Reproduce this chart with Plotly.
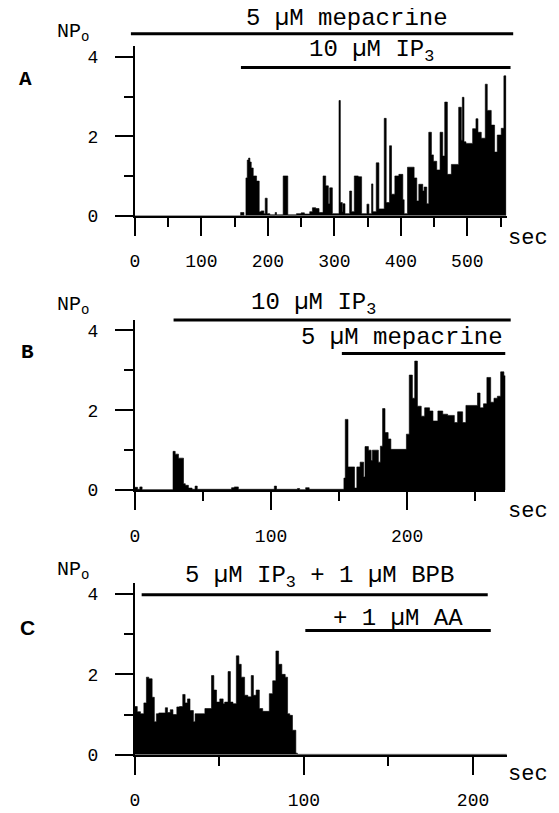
import plotly.graph_objects as go

# ---- data (time in sec, NPo) ----
# panel A: 5 uM mepacrine, then 10 uM IP3
t_a = [0, 159, 164, 167, 169, 171, 173, 175, 178, 183, 187, 190, 194, 196, 199, 203, 211, 213,
       223, 230, 243, 250, 255, 263, 267, 272, 277, 283, 287, 291, 293, 297, 307, 309, 312, 313,
       316, 323, 326, 330, 336, 341, 349, 352, 356, 358, 363, 367, 375, 378, 383, 386, 391, 397,
       403, 405, 410, 420, 424, 427, 433, 435, 439, 442, 446, 449, 454, 459, 463, 466, 470, 476,
       487, 491, 492.5, 495, 498, 508, 513, 516, 521, 527, 530, 536, 541, 545, 551, 555, 558]
np_a = [0, 0.08, 0, 0.95, 1.4, 1.45, 1.35, 1.2, 1.0, 0.87, 0.1, 0.12, 0.05, 0.44, 0.05, 0.02, 0.08, 0.02,
        1.0, 0.02, 0.05, 0.07, 0.04, 0.1, 0.2, 0.18, 0.08, 1.0, 0.75, 0.3, 0.7, 0.05, 2.9, 0.33, 0.1, 0.3,
        0.05, 0.62, 0.1, 1.0, 0.98, 0.05, 0.29, 0.05, 0.8, 0.1, 1.33, 0.17, 2.45, 0.33, 1.76, 0.54, 1.0, 1.04,
        0.4, 0.05, 1.22, 0.95, 0.37, 0.79, 0.62, 0.72, 0.3, 2.1, 1.53, 1.37, 1.15, 2.1, 1.5, 2.86, 1.04, 1.29,
        2.73, 1.9, 2.98, 1.86, 1.82, 2.19, 2.44, 2.1, 1.95, 3.31, 2.65, 2.28, 1.6, 2.03, 2.2, 3.52, 0]

# panel B: 10 uM IP3, then 5 uM mepacrine
t_b = [0, 2, 3.6, 5.3, 28, 29.6, 32, 35.7, 37, 39.3, 42, 44.2, 45.8, 71, 73, 76, 102.4, 104, 119.4, 121,
       125.4, 128, 153.5, 154.5, 156.5, 161.3, 163, 165.4, 168, 169, 171.5, 173.5, 174.4, 178.8, 180.3,
       181.9, 183.7, 186, 188, 199.4, 201.5, 203.8, 205.5, 207.5, 210.3, 212.8, 216.4, 218.9, 222.5, 226.1,
       229.7, 234.6, 237, 240.7, 243.1, 251.6, 253.5, 256, 258.5, 261.3, 263.7, 266.2, 268.6, 271, 272.2]
np_b = [0.07, 0.02, 0.08, 0.01, 0.97, 0.9, 0.8, 0.16, 0.12, 0.05, 0.02, 0.1, 0.02, 0.06, 0.08, 0.02, 0.1, 0.02, 0.04, 0.01,
        0.06, 0.02, 0.3, 1.77, 0.58, 0.05, 0.58, 0.7, 0.33, 1.09, 1.0, 0.74, 1.0, 0.7, 1.1,
        2.04, 1.44, 1.28, 1.02, 1.4, 2.88, 2.3, 3.23, 2.1, 1.85, 2.06, 1.98, 1.73, 1.98, 1.9,
        1.87, 1.69, 1.96, 1.69, 2.12, 2.43, 2.06, 2.16, 2.82, 2.2, 2.3, 2.35, 2.96, 2.86, 0]

# panel C: 5 uM IP3 + 1 uM BPB, then + 1 uM AA
t_c = [0, 1.4, 3.3, 5.3, 6.8, 8.2, 10.2, 11.5, 12.7, 14.1, 18, 19.3, 20.9, 22.5, 24.8, 26.4, 28.3, 29.7,
       31.1, 32.6, 34.6, 35.6, 41.4, 45.3, 46.7, 48.3, 50.2, 52.2, 53.1, 55.1, 56.5, 58, 60, 61.5, 62.9,
       64.9, 66.8, 68.8, 70.1, 71.7, 73.6, 75.6, 79.5, 81.5, 83.4, 85, 86.9, 88.9, 90.3, 91.6, 93.2, 95.2,
       96.1, 220]
np_c = [1.2, 1.07, 1.02, 1.29, 1.93, 1.89, 1.43, 0.82, 1.02, 1.04, 1.17, 1.05, 1.12, 1.0, 1.19, 1.2, 1.5, 1.29,
        1.39, 1.1, 0.82, 1.02, 1.15, 1.97, 1.61, 1.31, 1.39, 1.27, 1.31, 2.07, 1.31, 1.27, 2.46, 2.25, 1.93,
        1.48, 1.44, 1.97, 1.48, 1.61, 1.15, 1.08, 1.52, 1.84, 2.58, 2.25, 2.0, 1.93, 1.02, 0.98, 0.61, 0.04,
        0.01, 0.01]

# drug application bars: (label, start sec, end sec)
bars_a = [("5 µM mepacrine", -6, 569), ("10 µM IP<sub>3</sub>", 159.5, 565)]
bars_b = [("10 µM IP<sub>3</sub>", 28.4, 276), ("5 µM mepacrine", 152, 272)]
bars_c = [("5 µM IP<sub>3</sub> + 1 µM BPB", 4, 208.7), ("+ 1 µM AA", 100.8, 210.5)]

W, H = 559, 813
OFF = 8  # page body margin
MONO = "Liberation Mono"
YTOP = 4.27


def px(x, y):
    return (x - OFF) / W, 1 - (y - OFF) / H


def label(text, x, y, size, family=MONO):
    px_, py_ = px(x, y)
    return dict(text=text, x=px_, y=py_, xref="paper", yref="paper", showarrow=False,
                xanchor="center", yanchor="middle",
                font=dict(family=family, size=size, color="black"))


fig = go.Figure()

# panel geometry in page pixels: (x_left, x_right, y_zero, y_top, x range end)
panels = [
    (1, t_a, np_a, bars_a, (131, 506, 218.5, 46.6, 559), [4.58, 3.73],
     [(345, 19), (370, 52)], (69, 33), ("A", 21, 80, MONO), 242),
    (2, t_b, np_b, bars_b, (131, 504.7, 496.7, 323.8, 272), [4.26, 3.42],
     [(311, 308), (401, 342)], (69, 310), ("B", 23, 357, MONO), 518),
    (3, t_c, np_c, bars_c, (131, 506.3, 765, 591, 220), [3.98, 3.09],
     [(317, 585), (396, 627)], (69, 578), ("C", 23, 636, "Liberation Sans"), 785),
]

annotations = []
for i, t, v, bars, geo, bar_y, txt_pos, np_pos, letter, sec_y in panels:
    x0, x1, y0, ytop, xend = geo
    sfx = "" if i == 1 else str(i)
    xa, ya = "x" + sfx, "y" + sfx
    # full-page axes with the same scales, used for the drug bars
    xb, yb = "x%d" % (i + 3), "y%d" % (i + 3)
    xs = (x1 - x0) / xend
    ys = (y0 - ytop) / YTOP

    fig.add_trace(go.Scatter(x=t, y=v, mode="lines", xaxis=xa, yaxis=ya,
                             line=dict(shape="hv", width=0.6, color="black"),
                             fill="tozeroy", fillcolor="black", showlegend=False,
                             hoverinfo="skip"))
    for (text, s, e), by, (tx, ty) in zip(bars, bar_y, txt_pos):
        fig.add_trace(go.Scatter(x=[s, e], y=[by, by], mode="lines", xaxis=xb, yaxis=yb,
                                 line=dict(width=3, color="black"),
                                 showlegend=False, hoverinfo="skip"))
        annotations.append(label(text, tx, ty, 24))
    annotations.append(label("NP<sub>o</sub>", np_pos[0], np_pos[1], 20))
    lt, lx, ly, lf = letter
    annotations.append(label("<b>%s</b>" % lt, lx, ly, 21, lf))
    annotations.append(label("sec", 528, sec_y, 22))

    fig.layout["xaxis" + sfx] = dict(
        domain=[(x0 - OFF) / W, (x1 - OFF) / W], range=[0, xend], anchor=ya,
        showline=True, linewidth=2, linecolor="black",
        ticks="outside", ticklen=18, tickwidth=2, tickcolor="black", tickmode="linear",
        tick0=0, dtick=100, showgrid=False, zeroline=False, ticklabelstandoff=10,
        minor=dict(ticks="outside", ticklen=9, tickwidth=2, tickcolor="black",
                   tickmode="linear", tick0=0, dtick=50, showgrid=False),
        tickfont=dict(family=MONO, size=18, color="black"))
    fig.layout["yaxis" + sfx] = dict(
        domain=[1 - (y0 - OFF) / H, 1 - (ytop - OFF) / H], range=[0, YTOP], anchor=xa,
        showline=True, linewidth=2, linecolor="black",
        ticks="outside", ticklen=18, tickwidth=2, tickcolor="black",
        tickvals=[0, 2, 4], showgrid=False, zeroline=False, ticklabelstandoff=13,
        minor=dict(ticks="outside", ticklen=9, tickwidth=2, tickcolor="black",
                   tickvals=[1, 3], showgrid=False),
        tickfont=dict(family=MONO, size=18, color="black"))
    fig.layout["xaxis%d" % (i + 3)] = dict(
        domain=[0, 1], range=[-(x0 - OFF) / xs, (W - (x0 - OFF)) / xs], anchor=yb,
        visible=False, fixedrange=True)
    fig.layout["yaxis%d" % (i + 3)] = dict(
        domain=[0, 1], range=[(y0 - OFF - H) / ys, (y0 - OFF) / ys], anchor=xb,
        visible=False, fixedrange=True)

fig.update_layout(width=W, height=H, margin=dict(l=0, r=0, t=0, b=0),
                  paper_bgcolor="white", plot_bgcolor="rgba(0,0,0,0)",
                  annotations=annotations, showlegend=False)

fig.write_html("out.html")
